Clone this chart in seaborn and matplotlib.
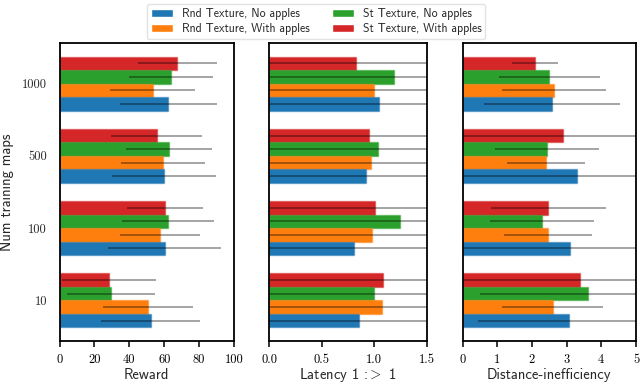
#!/usr/bin/env python3
# Grouped horizontal bars: reward / latency / distance per number of training maps

import pandas as pd
import numpy as np
import matplotlib
matplotlib.use('Agg')
import matplotlib.pyplot as plt
import seaborn as sns
from matplotlib.colors import to_rgba

sns.set_style('ticks')
plt.rcParams['font.family'] = ['cmss10', 'DejaVu Sans']
plt.rcParams['mathtext.fontset'] = 'cm'
plt.rcParams['axes.unicode_minus'] = False
plt.rcParams['axes.edgecolor'] = 'black'
plt.rcParams['axes.linewidth'] = 1.3

# groups, top to bottom
maps = ['1000', '500', '100', '10']

# conditions (legend order)
conditions = ['Rnd Texture, No apples', 'Rnd Texture, With apples',
              'St Texture, No apples', 'St Texture, With apples']
colors = ['#1f77b4', '#ff7f0e', '#2ca02c', '#d62728']

# Reward: mean and sd per condition, values for maps 1000, 500, 100, 10
reward_rnd_no = [62.2, 60.0, 60.4, 52.2]
reward_rnd_with = [53.3, 59.2, 57.5, 50.7]
reward_st_no = [64.0, 62.9, 62.3, 29.7]
reward_st_with = [67.4, 55.6, 60.2, 28.4]
reward_sd_rnd_no = [27.8, 29.8, 32.4, 28.6]
reward_sd_rnd_with = [24.1, 24.0, 22.9, 25.9]
reward_sd_st_no = [24.0, 24.7, 26.5, 25.3]
reward_sd_st_with = [22.7, 26.1, 21.8, 26.7]

# Latency 1 :> 1
lat_rnd_no = [1.05, 0.92, 0.81, 0.86]
lat_rnd_with = [1.00, 0.97, 0.98, 1.08]
lat_st_no = [1.19, 1.04, 1.25, 1.00]
lat_st_with = [0.83, 0.95, 1.01, 1.09]
lat_sd_rnd_no = [1.4, 1.3, 1.5, 1.4]
lat_sd_rnd_with = [1.3, 1.4, 1.3, 1.5]
lat_sd_st_no = [1.5, 1.3, 1.6, 1.4]
lat_sd_st_with = [1.2, 1.4, 1.3, 1.5]

# Distance-inefficiency
dist_rnd_no = [2.58, 3.30, 3.09, 3.08]
dist_rnd_with = [2.63, 2.40, 2.46, 2.60]
dist_st_no = [2.50, 2.43, 2.30, 3.63]
dist_st_with = [2.09, 2.91, 2.47, 3.40]
dist_sd_rnd_no = [1.97, 3.4, 3.2, 2.64]
dist_sd_rnd_with = [1.50, 1.12, 1.27, 1.46]
dist_sd_st_no = [1.46, 1.50, 1.50, 3.13]
dist_sd_st_with = [0.65, 3.2, 1.66, 3.5]

metrics = [
    ('Reward', [reward_rnd_no, reward_rnd_with, reward_st_no, reward_st_with],
     [reward_sd_rnd_no, reward_sd_rnd_with, reward_sd_st_no, reward_sd_st_with],
     (0, 100), [0, 20, 40, 60, 80, 100]),
    ('Latency 1 :$>$ 1', [lat_rnd_no, lat_rnd_with, lat_st_no, lat_st_with],
     [lat_sd_rnd_no, lat_sd_rnd_with, lat_sd_st_no, lat_sd_st_with],
     (0, 1.5), [0.0, 0.5, 1.0, 1.5]),
    ('Distance-inefficiency', [dist_rnd_no, dist_rnd_with, dist_st_no, dist_st_with],
     [dist_sd_rnd_no, dist_sd_rnd_with, dist_sd_st_no, dist_sd_st_with],
     (0, 5), [0, 1, 2, 3, 4, 5]),
]

# plotting order inside a group: red on top, blue at bottom
hue_order = conditions[::-1]
palette = dict(zip(conditions, colors))

fig = plt.figure(figsize=(6.4, 3.86), dpi=100)
boxes = [(59.5, 174.5), (269, 157.5), (462.5, 173.5)]
axes = [fig.add_axes([x0 / 640, 45 / 386, w / 640, 298 / 386]) for x0, w in boxes]

for i, (ax, (label, means, sds, xlim, ticks)) in enumerate(zip(axes, metrics)):
    rows = []
    for cond, m, s in zip(conditions, means, sds):
        for g, mv, sv in zip(maps, m, s):
            rows.append({'maps': g, 'cond': cond, 'value': mv, 'sd': sv})
    df = pd.DataFrame(rows)

    sns.barplot(data=df, x='value', y='maps', hue='cond', order=maps,
                hue_order=hue_order, palette=palette, orient='h',
                width=0.75, saturation=1, errorbar=None, ax=ax)

    # error bars at the bar centres seaborn placed
    for cond, container in zip(hue_order, ax.containers):
        sub = df[df['cond'] == cond].set_index('maps').loc[maps]
        ys = [b.get_y() + b.get_height() / 2 for b in container]
        ax.errorbar(sub['value'], ys, xerr=sub['sd'], fmt='none',
                    ecolor='black', alpha=0.42, elinewidth=1.2, capsize=0)
        for b in container:
            b.set_edgecolor(to_rgba(b.get_facecolor(), 0.45))
            b.set_linewidth(1.0)

    ax.set_xlim(*xlim)
    ax.set_xticks(ticks)
    ax.set_xlabel(label, fontsize=10.5, labelpad=0 if i == 1 else 2)
    ax.tick_params(axis='x', direction='out', length=4, width=1.1,
                   labelsize=9, pad=5, colors='black')
    ax.tick_params(axis='y', length=0, labelsize=9, pad=9)
    plt.setp(ax.get_xticklabels(), fontfamily='cmr10')
    for sp in ax.spines.values():
        sp.set_visible(True)
        sp.set_color('black')
    if i == 0:
        ax.set_ylabel('Num training maps', fontsize=10.5, labelpad=6)
        plt.setp(ax.get_yticklabels(), fontfamily='cmr10')
    else:
        ax.set_ylabel('')
        ax.set_yticklabels([])
    ax.get_legend().remove()

handles, labels = axes[0].get_legend_handles_labels()
handles, labels = handles[::-1], labels[::-1]
fig.legend(handles, labels, loc='upper center', bbox_to_anchor=(0.494, 1.005),
           ncol=2, fontsize=8.5, frameon=True, fancybox=True,
           edgecolor='#dddddd', handlelength=1.9, handleheight=0.6,
           handletextpad=0.7, columnspacing=1.9, borderpad=0.35,
           labelspacing=0.25)

plt.savefig('out.png', dpi=100)
